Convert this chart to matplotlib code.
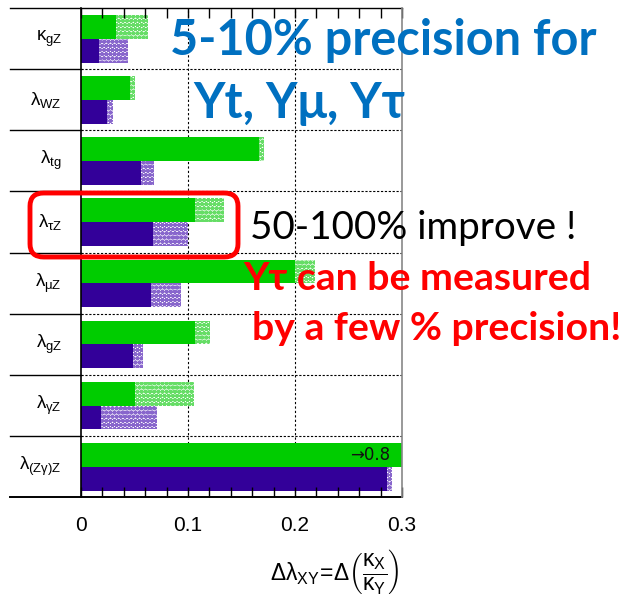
import matplotlib
matplotlib.use("Agg")
import matplotlib.pyplot as plt
from matplotlib.patches import FancyBboxPatch
from matplotlib.lines import Line2D

plt.rcParams['font.family'] = ['Liberation Sans', 'DejaVu Sans']
plt.rcParams['mathtext.fontset'] = 'custom'
plt.rcParams['mathtext.rm'] = 'Liberation Sans'
plt.rcParams['mathtext.it'] = 'Liberation Sans'
plt.rcParams['mathtext.bf'] = 'Liberation Sans:bold'
plt.rcParams['hatch.linewidth'] = 1.6

# Couplings, top to bottom
labels = [r'$\kappa_{gZ}$', r'$\lambda_{WZ}$', r'$\lambda_{tg}$', r'$\lambda_{\tau Z}$',
          r'$\lambda_{\mu Z}$', r'$\lambda_{gZ}$', r'$\lambda_{\gamma Z}$',
          r'$\lambda_{(Z\gamma)Z}$']

# Green: precision (solid) and extended reach (dotted)
green_solid = [0.033, 0.046, 0.166, 0.107, 0.200, 0.107, 0.050, 0.80]
green_full = [0.063, 0.050, 0.171, 0.134, 0.219, 0.121, 0.106, 0.80]
# Purple: precision (solid) and extended reach (dotted)
purple_solid = [0.017, 0.024, 0.056, 0.067, 0.065, 0.049, 0.019, 0.286]
purple_full = [0.044, 0.030, 0.068, 0.100, 0.093, 0.058, 0.071, 0.291]

xticks = [0, 0.1, 0.2, 0.3]
xtick_labels = ['0', '0.1', '0.2', '0.3']

GREEN = '#00cc00'
PURPLE = '#330099'
GREEN_DOT = '#66dd66'
PURPLE_DOT = '#8866cc'

W, H = 622, 597
fig = plt.figure(figsize=(W / 100, H / 100), dpi=100)
ax = fig.add_axes([81 / W, 1 - 497 / H, (402 - 81) / W, (497 - 8) / H])

n = len(labels)
ys = range(n)
h = 0.39
for i in ys:
    # dotted extensions behind solid bars
    ax.barh(i + 0.31, green_full[i] - green_solid[i], left=green_solid[i], height=h,
            color='white', edgecolor=GREEN_DOT, hatch='oooo', linewidth=0)
    ax.barh(i + 0.70, purple_full[i] - purple_solid[i], left=purple_solid[i], height=h,
            color='white', edgecolor=PURPLE_DOT, hatch='oooo', linewidth=0)
    ax.barh(i + 0.31, green_solid[i], height=h, color=GREEN, linewidth=0)
    ax.barh(i + 0.70, purple_solid[i], height=h, color=PURPLE, linewidth=0)

ax.set_xlim(0, 0.3)
ax.set_ylim(n, 0)

# grid: vertical dotted lines and row separators
for xv in [0.1, 0.2]:
    ax.axvline(xv, color='black', lw=0.8, ls=(0, (2, 2)), zorder=0.5)
for k in range(1, n):
    ax.axhline(k, color='black', lw=0.8, ls=(0, (2, 1.5)), zorder=0.5)
    # solid extension into the label area
    ax.add_line(Line2D([-0.066, 0], [k, k], color='black', lw=1.0, clip_on=False,
                       transform=ax.transData))
# outer lines reaching into the label area
ax.add_line(Line2D([-0.066, 0.3], [0, 0], color='black', lw=1.0, clip_on=False))
ax.add_line(Line2D([-0.066, 0.3], [n, n], color='black', lw=1.4, clip_on=False))

for s in ['top', 'bottom']:
    ax.spines[s].set_visible(False)
ax.spines['left'].set_linewidth(1.2)
ax.spines['right'].set_color('#888888')
ax.spines['right'].set_linewidth(1.2)

ax.set_yticks([])
ax.set_xticks(xticks)
ax.set_xticklabels(xtick_labels, fontsize=15)
ax.set_xticks([x / 100 for x in range(0, 31, 2)], minor=True)
ax.tick_params(axis='x', which='both', direction='in', top=True, bottom=True,
               length=7, width=1.0, pad=14)

for i, lab in enumerate(labels):
    ax.text(-0.018, i + 0.5, lab, ha='right', va='center', fontsize=13.5,
            clip_on=False)

ax.text(0.289, 7.31, '\u21920.8', ha='right', va='center', fontsize=12,
        color='#111111', family=['DejaVu Sans'])

fig.text(400 / W, 1 - 572 / H,
         r'$\Delta\lambda_{XY}\!=\!\Delta\left(\dfrac{\kappa_X}{\kappa_Y}\right)$',
         ha='right', va='center', fontsize=16.5)

# highlight box around the tau row
box = FancyBboxPatch((30 / W, 1 - 257 / H), (238 - 30) / W, (257 - 193) / H,
                     boxstyle='round,pad=0,rounding_size=0.022',
                     transform=fig.transFigure, fill=False, edgecolor='#ff0000',
                     linewidth=3.5, zorder=10)
fig.add_artist(box)

BLUE = '#0070c0'
RED = '#ff0000'
fig.text(170 / W, 1 - 55 / H, '5-10% precision for', fontsize=35, fontweight='bold',
         color=BLUE, family='Lato', va='baseline', ha='left')
fig.text(193 / W, 1 - 118 / H, 'Υt, Υμ, Υτ', fontsize=35, fontweight='bold',
         color=BLUE, family='Lato', va='baseline', ha='left')
fig.text(250 / W, 1 - 239 / H, '50-100% improve !', fontsize=27.8,
         color='black', family='Lato', va='baseline', ha='left')
fig.text(243 / W, 1 - 290 / H, 'Υτ can be measured', fontsize=28.3, fontweight='bold',
         color=RED, family='Lato', va='baseline', ha='left')
fig.text(252 / W, 1 - 340 / H, 'by a few % precision!', fontsize=28.3, fontweight='bold',
         color=RED, family='Lato', va='baseline', ha='left')

fig.savefig('out.png', dpi=100)
